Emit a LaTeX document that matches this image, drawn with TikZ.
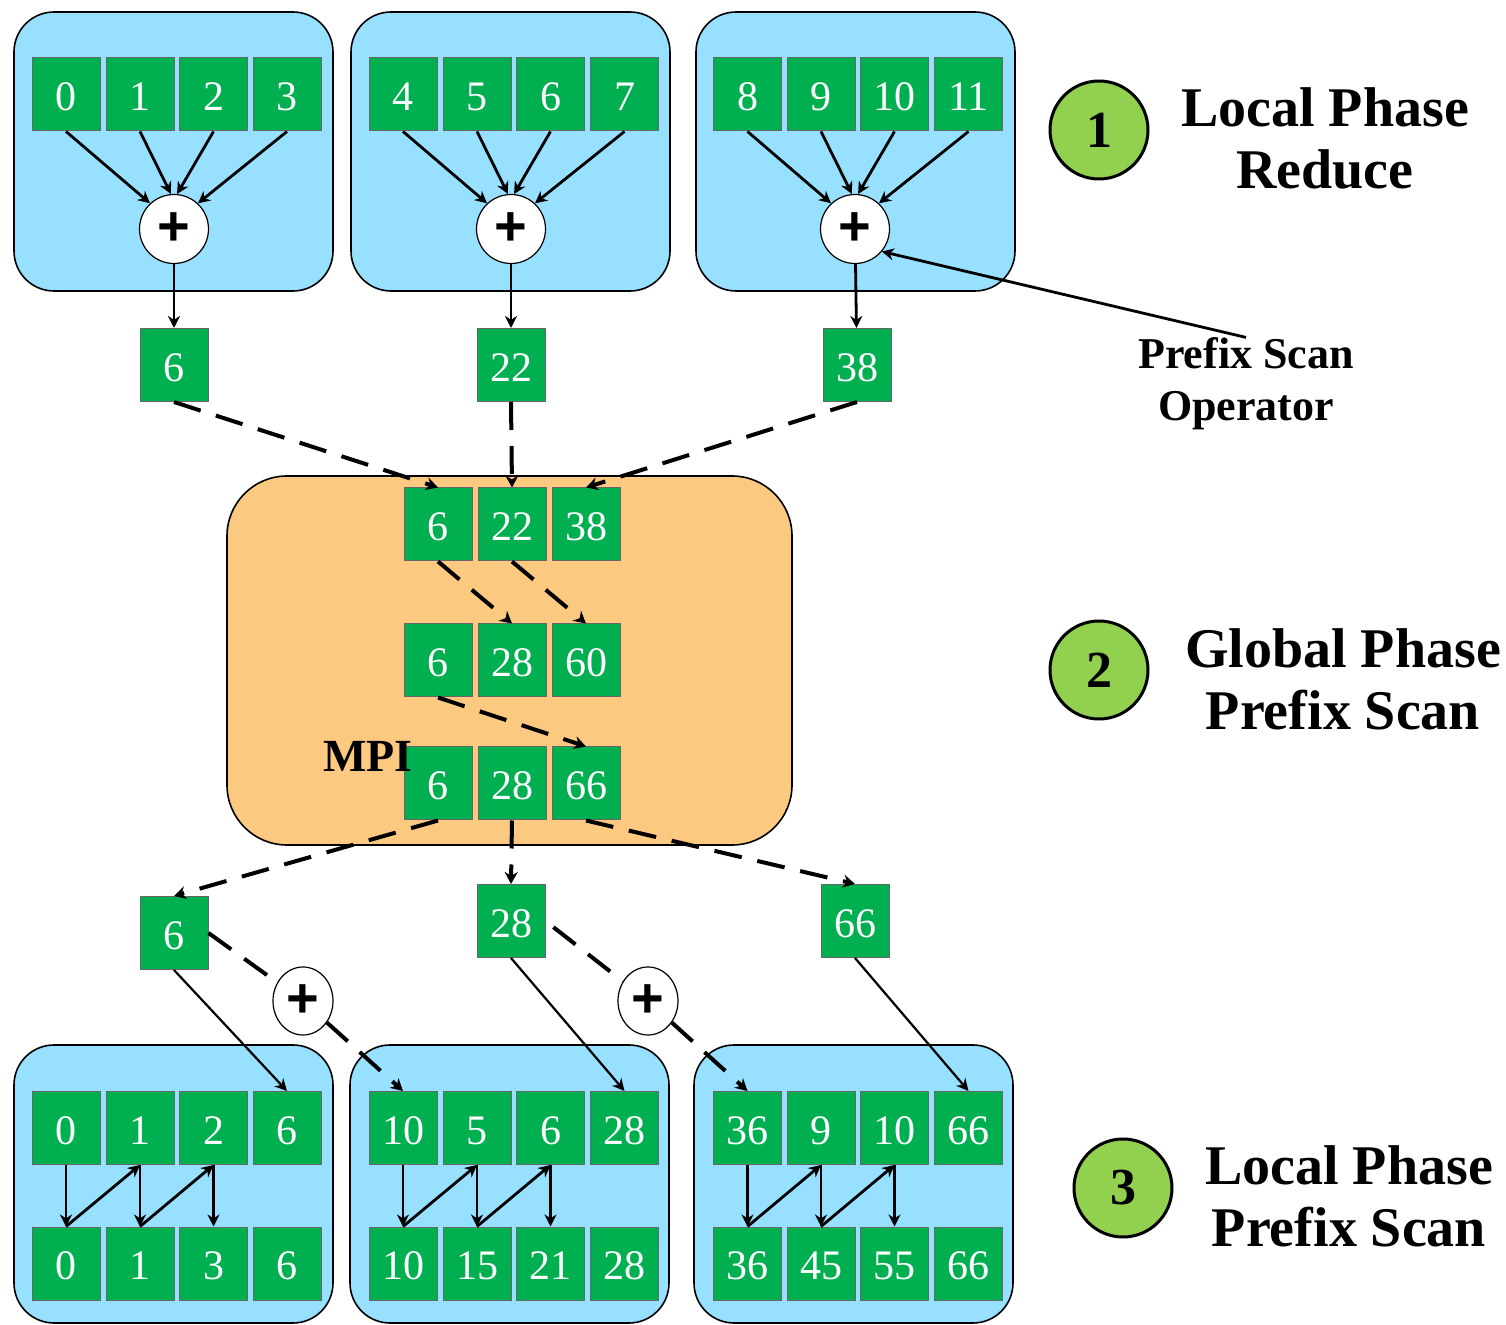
\documentclass[tikz,border=0pt]{standalone}
\usepackage{fontspec}
\setmainfont{Liberation Serif}
\setsansfont{Liberation Sans}
\usetikzlibrary{arrows.meta,shapes.geometric}

\definecolor{cellgreen}{RGB}{0,176,80}
\definecolor{poolblue}{RGB}{151,224,255}
\definecolor{mpiorange}{RGB}{252,201,129}
\definecolor{phasegreen}{RGB}{146,208,80}

\tikzset{
  cell/.style={draw=black!60, line width=0.5pt, fill=cellgreen, text=white, minimum width=34pt, minimum height=36.5pt, inner sep=0pt, text height=16.4pt, text depth=0pt, font=\fontsize{21}{24}\selectfont},
  plus/.style={shape=circle, draw=black, line width=0.6pt, fill=white, minimum size=34.5pt, inner sep=0pt, font=\sffamily\bfseries\fontsize{28}{30}\selectfont},
  plusb/.style={plus, shape=ellipse, minimum width=30pt, minimum height=34pt},
  phase/.style={shape=circle, draw=black, line width=1.5pt, fill=phasegreen, minimum size=49pt, inner sep=0pt, font=\bfseries\fontsize{26}{28}\selectfont},
  title/.style={align=center, inner sep=0pt, font=\bfseries\fontsize{28}{31}\selectfont},
  pool/.style={draw=black, line width=0.8pt, fill=poolblue, rounded corners=20pt},
  flow/.style={-{Stealth[length=6pt,width=6pt]}, line width=1.4pt},
  thinflow/.style={flow, line width=1.1pt},
  carry/.style={line width=2pt, dash pattern=on 14pt off 8pt},
  send/.style={carry, -{Stealth[length=6pt,width=6.5pt]}},
}

\begin{document}
\begin{tikzpicture}[x=0.5pt,y=-0.5pt]
  \useasboundingbox (0,0) rectangle (1506,1325);

  % local blocks
  \draw[pool] (14,12) rectangle (333,291);
  \draw[pool] (351,12) rectangle (670,291);
  \draw[pool] (696,12) rectangle (1015,291);
  \draw[pool] (14,1045) rectangle (333,1323);
  \draw[pool] (350,1045) rectangle (669,1323);
  \draw[pool] (694,1045) rectangle (1013,1323);
  \draw[draw=black, line width=0.8pt, fill=mpiorange, rounded corners=30pt] (227,476) rectangle (792,845);

  % phase 1 input
  \node[cell] (a1) at (66,94.5) {0};
  \node[cell] (a2) at (140,94.5) {1};
  \node[cell] (a3) at (213.5,94.5) {2};
  \node[cell] (a4) at (287,94.5) {3};
  \node[cell] (a5) at (403,94.5) {4};
  \node[cell] (a6) at (477,94.5) {5};
  \node[cell] (a7) at (550.5,94.5) {6};
  \node[cell] (a8) at (624.5,94.5) {7};
  \node[cell] (a9) at (747.5,94.5) {8};
  \node[cell] (a10) at (821,94.5) {9};
  \node[cell] (a11) at (894.5,94.5) {10};
  \node[cell] (a12) at (968.5,94.5) {11};

  \node[plus] (p1) at (174,229) {+};
  \node[plus] (p2) at (511,229) {+};
  \node[plus] (p3) at (855,229) {+};

  \node[cell] (s1) at (174,365) {6};
  \node[cell] (s2) at (511,365) {22};
  \node[cell] (s3) at (857,365) {38};

  % phase 2
  \node[cell] (m1) at (438,524.5) {6};
  \node[cell] (m2) at (512,524.5) {22};
  \node[cell] (m3) at (586,524.5) {38};
  \node[cell] (m4) at (438,660.5) {6};
  \node[cell] (m5) at (512,660.5) {28};
  \node[cell] (m6) at (586,660.5) {60};
  \node[cell] (m7) at (438,783.5) {6};
  \node[cell] (m8) at (512,783.5) {28};
  \node[cell] (m9) at (586,783.5) {66};
  \node[font=\bfseries\fontsize{23}{26}\selectfont] (mpi) at (368,756) {MPI};

  % phase 3
  \node[cell] (t1) at (174,933) {6};
  \node[cell] (t2) at (511,921) {28};
  \node[cell] (t3) at (855,921) {66};
  \node[plusb] (q1) at (303,1001) {+};
  \node[plusb] (q2) at (648,1001) {+};

  \node[cell] (b1) at (66,1128) {0};
  \node[cell] (b2) at (140,1128) {1};
  \node[cell] (b3) at (213.5,1128) {2};
  \node[cell] (b4) at (287,1128) {6};
  \node[cell] (b5) at (403,1128) {10};
  \node[cell] (b6) at (477,1128) {5};
  \node[cell] (b7) at (550.5,1128) {6};
  \node[cell] (b8) at (624.5,1128) {28};
  \node[cell] (b9) at (747.5,1128) {36};
  \node[cell] (b10) at (821,1128) {9};
  \node[cell] (b11) at (894.5,1128) {10};
  \node[cell] (b12) at (968.5,1128) {66};

  \node[cell] (c1) at (66,1263.5) {0};
  \node[cell] (c2) at (140,1263.5) {1};
  \node[cell] (c3) at (213.5,1263.5) {3};
  \node[cell] (c4) at (287,1263.5) {6};
  \node[cell] (c5) at (403,1263.5) {10};
  \node[cell] (c6) at (477,1263.5) {15};
  \node[cell] (c7) at (550.5,1263.5) {21};
  \node[cell] (c8) at (624.5,1263.5) {28};
  \node[cell] (c9) at (747.5,1263.5) {36};
  \node[cell] (c10) at (821,1263.5) {45};
  \node[cell] (c11) at (894.5,1263.5) {55};
  \node[cell] (c12) at (968.5,1263.5) {66};

  % legend
  \node[phase] (n1) at (1099,130) {1};
  \node[phase] (n2) at (1099,670) {2};
  \node[phase] (n3) at (1123,1188) {3};
  \node[title] (l1) at (1325,138) {Local Phase\\Reduce};
  \node[title] (l2) at (1343,679) {Global Phase\\Prefix Scan};
  \node[title] (l3) at (1349,1196) {Local Phase\\Prefix Scan};
  \node[title, font=\bfseries\fontsize{22}{26}\selectfont] (op) at (1246,384) {Prefix Scan\\Operator};

  % reduce
  \draw[flow] (a1.south) -- (p1.133);
  \draw[flow] (a2.south) -- (p1.95);
  \draw[flow] (a3.south) -- (p1.85);
  \draw[flow] (a4.south) -- (p1.47);
  \draw[flow] (a5.south) -- (p2.133);
  \draw[flow] (a6.south) -- (p2.95);
  \draw[flow] (a7.south) -- (p2.85);
  \draw[flow] (a8.south) -- (p2.47);
  \draw[flow] (a9.south) -- (p3.133);
  \draw[flow] (a10.south) -- (p3.95);
  \draw[flow] (a11.south) -- (p3.85);
  \draw[flow] (a12.south) -- (p3.47);
  \draw[flow] (p1) -- (s1);
  \draw[flow] (p2) -- (s2);
  \draw[flow] (p3) -- (s3);
  \draw[flow] (op.north) -- (p3.-40);

  % global scan
  \draw[send] (s1.south) -- (m1.north);
  \draw[send] (s2.south) -- (m2.north);
  \draw[send] (s3.south) -- (m3.north);
  \draw[send] (m1.south) -- (m5.north);
  \draw[send] (m2.south) -- (m6.north);
  \draw[send] (m4.south) -- (m9.north);
  \draw[send] (m7.south) -- (t1.north);
  \draw[send] (m8.south) -- (t2.north);
  \draw[send] (m9.south) -- (t3.north);

  % local scan
  \draw[carry] (t1.east) -- (q1);
  \draw[send] (q1) -- (b5.north);
  \draw[carry, shorten <=5pt] (t2.east) -- (q2);
  \draw[send] (q2) -- (b9.north);
  \draw[thinflow] (t1.south) -- (b4.north);
  \draw[thinflow] (t2.south) -- (b8.north);
  \draw[thinflow] (t3.south) -- (b12.north);

  \draw[flow] (b1.south) -- (c1.north);
  \draw[flow] (c1.north) -- (b2.south);
  \draw[flow] (b2.south) -- (c2.north);
  \draw[flow] (c2.north) -- (b3.south);
  \draw[flow] (b3.south) -- (c3.north);
  \draw[flow] (b5.south) -- (c5.north);
  \draw[flow] (c5.north) -- (b6.south);
  \draw[flow] (b6.south) -- (c6.north);
  \draw[flow] (c6.north) -- (b7.south);
  \draw[flow] (b7.south) -- (c7.north);
  \draw[flow] (b9.south) -- (c9.north);
  \draw[flow] (c9.north) -- (b10.south);
  \draw[flow] (b10.south) -- (c10.north);
  \draw[flow] (c10.north) -- (b11.south);
  \draw[flow] (b11.south) -- (c11.north);
\end{tikzpicture}
\end{document}
